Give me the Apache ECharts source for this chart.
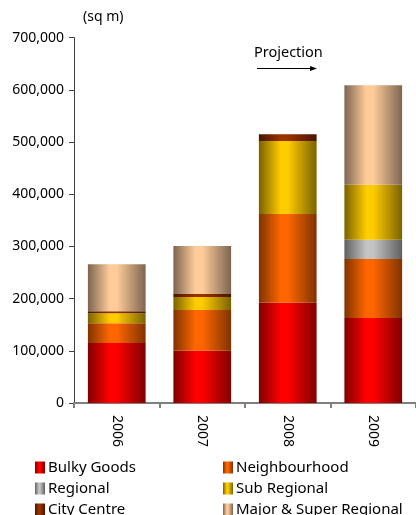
<!DOCTYPE html>
<html>
<head>
<meta charset="utf-8">
<script src="https://cdn.jsdelivr.net/npm/echarts@6/dist/echarts.min.js"></script>
<style>
  html, body { margin: 0; padding: 0; background: #fff; }
  #chart { width: 416px; height: 515px; }
</style>
</head>
<body>
<div id="chart"></div>
<script>
// Retail floor space by centre type (sq m)
const years = ['2006', '2007', '2008', '2009'];

const bulkyGoods    = [115000, 100000, 192000, 163000];
const neighbourhood = [38000, 78000, 170000, 113000];
const regional      = [0, 0, 0, 37000];
const subRegional   = [19000, 25000, 140000, 105000];
const cityCentre    = [4000, 6000, 13000, 0];
const majorSuper    = [90000, 92000, 0, 191000];

const yTicks = [0, 100000, 200000, 300000, 400000, 500000, 600000, 700000];

// dark edge / bright centre pairs for the cylinder shading
const palette = {
  'Bulky Goods':            ['#800000', '#ff0000'],
  'Neighbourhood':          ['#803300', '#ff6600'],
  'Regional':               ['#606060', '#c4c4c4'],
  'Sub Regional':           ['#7a6200', '#ffcc00'],
  'City Centre':            ['#4a1400', '#993300'],
  'Major & Super Regional': ['#7d6550', '#ffcc99']
};

function shade(name) {
  const [edge, mid] = palette[name];
  return new echarts.graphic.LinearGradient(0, 0, 1, 0, [
    { offset: 0, color: edge },
    { offset: 0.38, color: mid },
    { offset: 0.5, color: mid },
    { offset: 1, color: edge }
  ]);
}

const seriesDefs = [
  ['Bulky Goods', bulkyGoods],
  ['Neighbourhood', neighbourhood],
  ['Regional', regional],
  ['Sub Regional', subRegional],
  ['City Centre', cityCentre],
  ['Major & Super Regional', majorSuper]
];

const font = '"Noto Sans", "Open Sans", sans-serif';

// legend laid out as two columns of three rows
const legendSlots = [
  ['Bulky Goods', 35, 0], ['Neighbourhood', 223, 0],
  ['Regional', 35, 1],    ['Sub Regional', 223, 1],
  ['City Centre', 35, 2], ['Major & Super Regional', 223, 2]
];

const chart = echarts.init(document.getElementById('chart'), null, { renderer: 'canvas' });

chart.setOption({
  animation: false,
  backgroundColor: '#fff',
  grid: { left: 74, top: 37.7, bottom: 112, right: -2, containLabel: false },
  legend: legendSlots.map(([name, x, row]) => ({
    data: [name],
    left: x,
    top: 460 + row * 21,
    itemWidth: 10,
    itemHeight: 12,
    icon: 'rect',
    padding: 0,
    textStyle: { fontFamily: font, fontSize: 15, color: '#000', padding: [0, 0, 0, -2] }
  })),
  xAxis: {
    type: 'category',
    data: years,
    axisLine: { lineStyle: { color: '#808080', width: 2 } },
    axisTick: { show: true, length: 5, lineStyle: { color: '#808080', width: 2 } },
    axisLabel: { rotate: -90, fontFamily: font, fontSize: 14, color: '#000', margin: 12 }
  },
  yAxis: {
    type: 'value',
    min: yTicks[0],
    max: yTicks[yTicks.length - 1],
    interval: yTicks[1] - yTicks[0],
    axisLine: { show: true, lineStyle: { color: '#404040', width: 1 } },
    axisTick: { show: true, length: 5, lineStyle: { color: '#404040' } },
    splitLine: { show: false },
    axisLabel: {
      fontFamily: font, fontSize: 14, color: '#000', margin: 10,
      formatter: v => v.toLocaleString('en-US')
    }
  },
  series: seriesDefs.map(([name, values]) => ({
    name,
    type: 'bar',
    stack: 'total',
    barWidth: '67.5%',
    data: values,
    itemStyle: { color: shade(name) }
  })),
  graphic: [
    {
      type: 'text', left: 83, top: 10,
      style: { text: '(sq m)', font: '14px ' + font, fill: '#000' }
    },
    {
      type: 'text', left: 254, top: 45,
      style: { text: 'Projection', font: '14.5px ' + font, fill: '#000' }
    },
    {
      type: 'line',
      shape: { x1: 257, y1: 68.5, x2: 312, y2: 68.5 },
      style: { stroke: '#000', lineWidth: 1 }
    },
    {
      type: 'polygon',
      shape: { points: [[317, 68.5], [310, 66], [310, 71]] },
      style: { fill: '#000' }
    }
  ]
});
</script>
</body>
</html>
